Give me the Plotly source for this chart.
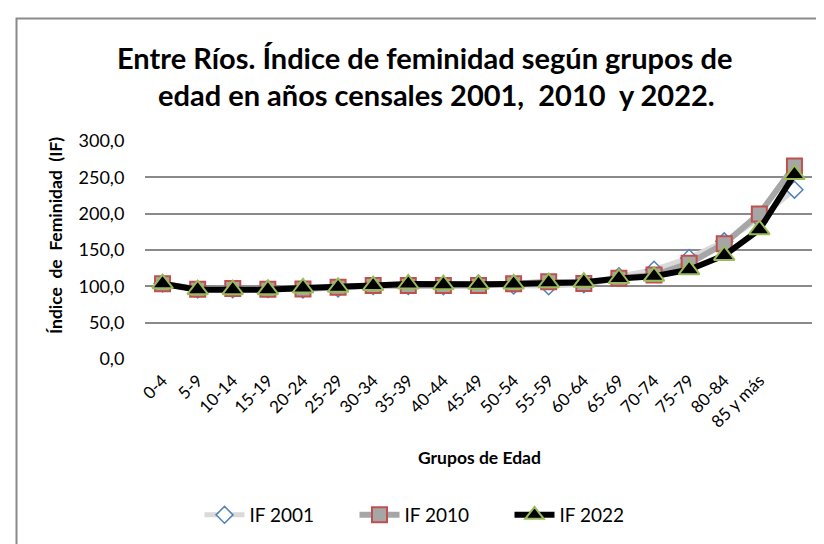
import plotly.graph_objects as go

categories = ["0-4", "5-9", "10-14", "15-19", "20-24", "25-29", "30-34", "35-39",
              "40-44", "45-49", "50-54", "55-59", "60-64", "65-69", "70-74",
              "75-79", "80-84", "85 y más", ""]
if_2001 = [103.8, 95.8, 96.0, 96.5, 95.8, 97.0, 100.6, 100.6, 100.0, 103.8, 101.0,
           100.0, 103.0, 113.8, 122.9, 139.0, 161.9, 192.6, 233.0]
if_2010 = [103.6, 96.0, 97.0, 96.0, 96.3, 98.6, 101.3, 101.3, 101.3, 101.3, 103.6,
           106.2, 104.0, 111.0, 115.6, 131.6, 158.7, 199.7, 265.5]
if_2022 = [103.6, 95.4, 95.4, 95.4, 97.7, 98.6, 101.1, 103.2, 102.3, 102.7, 103.2,
           105.0, 105.7, 110.8, 113.8, 122.9, 142.6, 178.0, 254.0]
y_ticks = [0, 50, 100, 150, 200, 250, 300]

FONT = "Lato, 'Liberation Sans', Arial, sans-serif"
x = list(range(len(categories)))

fig = go.Figure()
fig.add_trace(go.Scatter(
    x=x, y=if_2001, name="IF 2001", mode="lines+markers",
    line=dict(color="#d9d9d9", width=5),
    marker=dict(symbol="diamond", size=13, color="white",
                line=dict(color="#4f81bd", width=1.5)),
))
fig.add_trace(go.Scatter(
    x=x, y=if_2010, name="IF 2010", mode="lines+markers",
    line=dict(color="#a6a6a6", width=6),
    marker=dict(symbol="square", size=15, color="#a6a6a6",
                line=dict(color="#c0504d", width=2)),
))
fig.add_trace(go.Scatter(
    x=x, y=if_2022, name="IF 2022", mode="lines+markers",
    line=dict(color="black", width=6),
    marker=dict(symbol="triangle-up", size=18, color="black",
                line=dict(color="#9bbb59", width=2)),
))

L, R, T, B = 137, 804, 133, 351
W, H = 824, 544
pw, ph = R - L, B - T

def px(xp):
    return (xp - L) / pw

def py(yp):
    return (B - yp) / ph

fig.update_layout(
    width=W, height=H,
    margin=dict(l=L, r=W - R, t=T, b=H - B, pad=0),
    paper_bgcolor="white", plot_bgcolor="white",
    separators=",.",
    font=dict(family=FONT, color="black"),
    showlegend=True,
    legend=dict(orientation="h", x=px(424), y=py(507), xanchor="center",
                yanchor="middle", font=dict(size=19, family=FONT),
                itemwidth=40, entrywidth=100, entrywidthmode="pixels",
                tracegroupgap=0, bgcolor="rgba(0,0,0,0)"),
    xaxis=dict(range=[-0.5, len(categories) - 0.5], tickvals=x, ticktext=categories,
               tickangle=-45, showgrid=False, zeroline=False, showline=False,
               ticks="outside", ticklen=4, tickcolor="rgba(0,0,0,0)",
               tickfont=dict(size=17, family=FONT)),
    yaxis=dict(range=[0, 300], tickvals=y_ticks, tickformat=".1f",
               showgrid=True, gridcolor="#8a8a8a", gridwidth=1.5,
               zeroline=False, showline=False,
               ticks="outside", ticklen=16, tickcolor="rgba(0,0,0,0)",
               tickfont=dict(size=18, family=FONT)),
    annotations=[
        dict(text="<b>Entre Ríos. Índice de feminidad según grupos de</b>",
             x=px(416), y=py(50), xref="paper", yref="paper",
             showarrow=False, xanchor="center", yanchor="middle",
             font=dict(size=29, family=FONT)),
        dict(text="<b>edad en años censales 2001,  2010  y 2022.</b>",
             x=px(428), y=py(87), xref="paper", yref="paper",
             showarrow=False, xanchor="center", yanchor="middle",
             font=dict(size=29, family=FONT)),
        dict(text="<b>Índice  de  Feminidad  (IF)</b>", textangle=-90,
             x=px(47), y=py(228), xref="paper", yref="paper",
             showarrow=False, xanchor="center", yanchor="middle",
             font=dict(size=17.5, family=FONT)),
        dict(text="<b>Grupos de Edad</b>",
             x=px(471), y=py(449), xref="paper", yref="paper",
             showarrow=False, xanchor="center", yanchor="middle",
             font=dict(size=17.5, family=FONT)),
    ],
    shapes=[
        dict(type="rect", xref="paper", yref="paper",
             x0=px(8.5), x1=px(840), y0=py(560), y1=py(10.5),
             line=dict(color="#8a8a8a", width=2), layer="below"),
    ],
)

fig.write_html("out.html")
